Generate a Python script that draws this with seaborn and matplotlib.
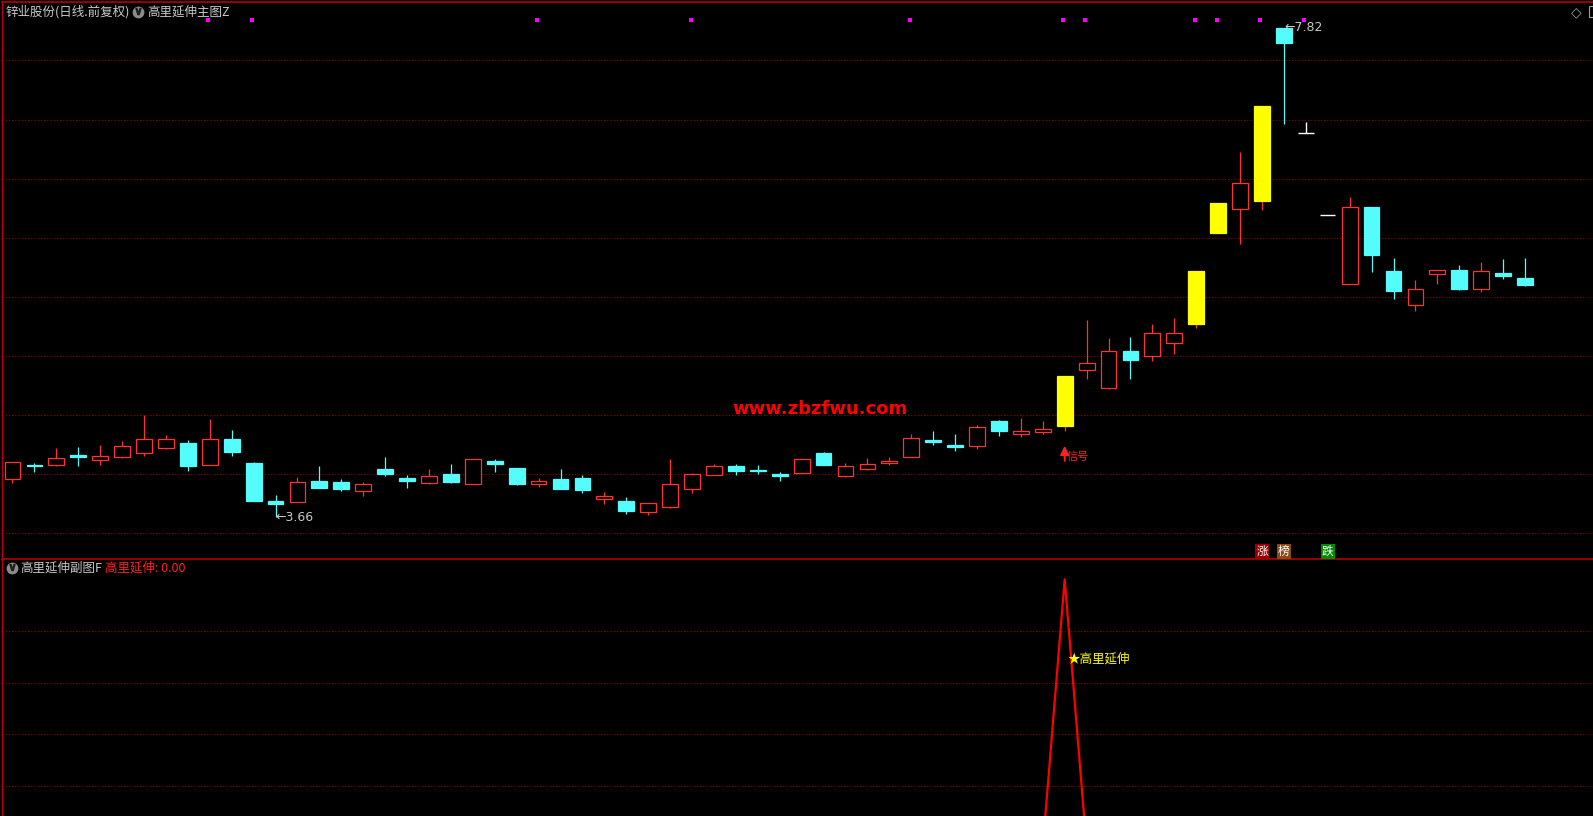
import numpy as np
import pandas as pd
import matplotlib
matplotlib.use("Agg")
import matplotlib.pyplot as plt
from matplotlib.patches import Rectangle
import seaborn as sns

# daily bars (oldest first)
opens = [3.984, 4.100, 4.103, 4.185, 4.145, 4.171, 4.205, 4.247, 4.287, 4.103,
         4.322, 4.117, 3.796, 3.788, 3.964, 3.956, 3.881, 4.066, 3.990, 3.950,
         4.024, 3.941, 4.134, 4.075, 3.941, 3.981, 3.990, 3.813, 3.794, 3.703,
         3.745, 3.899, 4.018, 4.092, 4.058, 4.024, 4.035, 4.202, 4.009, 4.069,
         4.120, 4.171, 4.313, 4.270, 4.264, 4.475, 4.367, 4.384, 4.435, 4.906,
         4.758, 5.071, 5.025, 5.136, 5.303, 6.078, 6.277, 6.350, 7.820, 6.926,
         6.228, 5.638, 6.296, 5.752, 5.460, 5.723, 5.760, 5.596, 5.735, 5.692]
highs = [4.123, 4.120, 4.245, 4.253, 4.270, 4.304, 4.526, 4.356, 4.313, 4.492,
         4.398, 4.126, 3.845, 3.998, 4.092, 3.981, 3.956, 4.168, 4.015, 4.066,
         4.109, 4.151, 4.151, 4.075, 3.990, 4.066, 4.015, 3.870, 3.828, 3.774,
         4.151, 4.032, 4.109, 4.109, 4.100, 4.041, 4.151, 4.211, 4.117, 4.160,
         4.168, 4.364, 4.390, 4.364, 4.441, 4.483, 4.500, 4.475, 4.858, 5.334,
         5.181, 5.190, 5.301, 5.352, 5.752, 6.330, 6.764, 7.156, 7.820, 7.017,
         6.228, 6.381, 6.296, 5.862, 5.675, 5.760, 5.803, 5.828, 5.854, 5.862]
lows = [3.950, 4.043, 4.094, 4.094, 4.103, 4.162, 4.179, 4.239, 4.052, 4.103,
        4.179, 3.796, 3.660, 3.788, 3.907, 3.881, 3.839, 4.009, 3.904, 3.941,
        3.947, 3.941, 4.041, 3.930, 3.913, 3.896, 3.862, 3.771, 3.683, 3.675,
        3.737, 3.862, 4.018, 4.015, 4.024, 3.964, 4.035, 4.103, 4.001, 4.060,
        4.103, 4.171, 4.270, 4.219, 4.236, 4.347, 4.339, 4.367, 4.392, 4.835,
        4.750, 4.835, 4.983, 5.046, 5.269, 6.078, 5.984, 6.273, 7.005, 6.926,
        6.228, 5.638, 5.746, 5.516, 5.414, 5.643, 5.592, 5.575, 5.686, 5.626]
closes = [4.123, 4.095, 4.157, 4.171, 4.177, 4.262, 4.322, 4.322, 4.094, 4.322,
          4.213, 3.796, 3.771, 3.956, 3.907, 3.899, 3.938, 4.026, 3.964, 4.007,
          3.956, 4.151, 4.109, 3.941, 3.964, 3.896, 3.887, 3.834, 3.709, 3.774,
          3.938, 4.024, 4.092, 4.049, 4.049, 4.007, 4.151, 4.103, 4.092, 4.109,
          4.134, 4.330, 4.299, 4.256, 4.424, 4.390, 4.390, 4.404, 4.858, 4.966,
          5.068, 4.997, 5.224, 5.224, 5.752, 6.330, 6.498, 7.156, 7.695, 6.926,
          6.228, 6.294, 5.890, 5.584, 5.596, 5.760, 5.601, 5.752, 5.712, 5.635]

yellow_idx = [48, 54, 55, 57]
white_idx = [59, 60]
mark_idx = [9, 11, 24, 31, 41, 48, 49, 54, 55, 57, 59]
signal_idx = 48
badges = [(57, "涨", "#9a0000"), (58, "榜", "#8b4a10"), (60, "跌", "#008a00")]

# sub-chart indicator
sub_vals = [0, 0, 0, 0, 0, 0, 0, 0, 0, 0,
            0, 0, 0, 0, 0, 0, 0, 0, 0, 0,
            0, 0, 0, 0, 0, 0, 0, 0, 0, 0,
            0, 0, 0, 0, 0, 0, 0, 0, 0, 0,
            0, 0, 0, 0, 0, 0, 0, 0, 1, 0,
            0, 0, 0, 0, 0, 0, 0, 0, 0, 0,
            0, 0, 0, 0, 0, 0, 0, 0, 0, 0]

main_grid = np.linspace(7.545, 3.521, 9)
sub_grid = [0.807, 0.6115, 0.421, 0.2267]

RED = "#ff3232"
CYAN = "#54fcfc"
GRID = "#a00000"
BORDER = "#c00000"
GRAY = "#c8c8c8"

sns.set_style("dark", {"axes.facecolor": "black", "figure.facecolor": "black"})
plt.rcParams["font.family"] = ["Noto Sans CJK SC", "DejaVu Sans"]

W, H = 1593, 816
fig = plt.figure(figsize=(W / 100, H / 100), dpi=100, facecolor="black")
left = 2.3 / W
sep = 1 - 559 / H
ax2 = fig.add_axes([left, 0, 1 - left, sep])
ax = fig.add_axes([left, sep, 1 - left, (559 - 1.7) / H])
ax.set_zorder(3)
ax.patch.set_alpha(0)

for a in (ax, ax2):
    a.set_facecolor("black")
    a.set_xticks([])
    a.set_yticks([])
    a.grid(False)
    a.set_xlim(-0.465, 72.1)
    for s in a.spines.values():
        s.set_visible(False)
    a.spines["left"].set_visible(True)
    a.spines["left"].set_color(BORDER)
    a.spines["left"].set_linewidth(1.0)
ax.patch.set_alpha(0)
for s in ("top", "bottom"):
    ax.spines[s].set_visible(True)
    ax.spines[s].set_color(BORDER)
    ax.spines[s].set_linewidth(1.1)

ax.set_ylim(3.300, 8.0455)
ax2.set_ylim(0.1158, 1.0758)

for g in main_grid:
    ax.axhline(g, color=GRID, lw=0.72, ls=(0, (1, 2.2)), zorder=1)
for g in sub_grid:
    ax2.axhline(g, color=GRID, lw=0.72, ls=(0, (1, 2.2)), zorder=1)

# candles
df = pd.DataFrame({"o": opens, "h": highs, "l": lows, "c": closes})
for i, r in df.iterrows():
    top, bot = max(r.o, r.c), min(r.o, r.c)
    if i in white_idx:
        ax.hlines(r.c, i - 0.35, i + 0.35, color="white", lw=1.0, zorder=3)
        if r.h > top:
            ax.vlines(i, top, r.h, color="white", lw=1.0, zorder=3)
        continue
    up = r.c >= r.o
    wc = RED if up else CYAN
    ax.vlines(i, top, r.h, color=wc, lw=0.9, zorder=2)
    ax.vlines(i, r.l, bot, color=wc, lw=0.9, zorder=2)
    if i in yellow_idx:
        fc, ec = "#ffff00", "#ffff00"
    elif up:
        fc, ec = "black", RED
    else:
        fc, ec = CYAN, CYAN
    ax.bar(i, max(top - bot, 1e-4), bottom=bot, width=0.72,
           facecolor=fc, edgecolor=ec, linewidth=0.9, zorder=3)

# high / low labels
ax.text(58, 7.824, "←7.82", color=GRAY, fontsize=9, ha="left", va="center",
        family="DejaVu Sans")
ax.text(12, 3.657, "←3.66", color=GRAY, fontsize=9, ha="left", va="center",
        family="DejaVu Sans")

# magenta dots across the top
xt = ax.get_xaxis_transform()
ax.scatter(np.array(mark_idx) - 0.07, [0.9666] * len(mark_idx), transform=xt,
           marker="s", s=6, color="#ff00ff", linewidths=0, zorder=4)

# signal arrow
ax.annotate("", xy=(signal_idx, 4.2875), xytext=(signal_idx, 4.112),
            arrowprops=dict(arrowstyle="-|>", color="#ff2020", lw=1.4,
                            mutation_scale=13), zorder=4)
ax.text(signal_idx + 0.08, 4.168, "信号", color="#ff2020", fontsize=8,
        ha="left", va="center")

for i, t, bg in badges:
    ax.text(i, 0.0135, t, transform=xt, color="white", fontsize=8.5,
            ha="center", va="center",
            bbox=dict(boxstyle="square,pad=0.08", fc=bg, ec="none"))

# sub-chart line
sub = pd.DataFrame({"idx": range(len(sub_vals)), "val": sub_vals})
sns.lineplot(data=sub, x="idx", y="val", ax=ax2, color="#ff0000",
             linewidth=1.6, legend=False)
ax2.set_xlabel("")
ax2.set_ylabel("")
ax2.text(48.15, 0.702, "★高里延伸", color="#ffff00", fontsize=9,
         ha="left", va="center")

# headers
def fx(px):
    return px / W

def fy(py):
    return 1 - py / H

def icon(px, py):
    fig.lines.append(plt.Line2D([fx(px)], [fy(py)], transform=fig.transFigure,
                                marker="o", ms=8.5, color="#8c8c8c", mec="none"))
    fig.lines.append(plt.Line2D([fx(px)], [fy(py) + 0.001], transform=fig.transFigure,
                                marker=r"$\vee$", ms=4.5, color="#202020", mec="#202020"))

fig.text(fx(6), fy(12), "锌业股份(日线.前复权)", color=GRAY, fontsize=9,
         ha="left", va="center")
icon(137.5, 12)
fig.text(fx(147), fy(12), "高里延伸主图Z", color=GRAY, fontsize=9,
         ha="left", va="center")
icon(11.5, 568)
fig.text(fx(20.7), fy(568), "高里延伸副图F", color=GRAY, fontsize=9,
         ha="left", va="center")
fig.text(fx(105), fy(568), "高里延伸: 0.00", color="#ff2020", fontsize=9,
         ha="left", va="center")

fig.text(fx(1576), fy(12), "◇", color="#a0a0a0", fontsize=10,
         ha="center", va="center", family="DejaVu Sans")
fig.patches.append(Rectangle((fx(1589), fy(17)), 8 / W, 11 / H, fill=False,
                             edgecolor="#a0a0a0", lw=0.8,
                             transform=fig.transFigure))

fig.text(fx(820), fy(408.5), "www.zbzfwu.com", color="#ff0000", fontsize=13,
         fontweight="heavy", family="DejaVu Sans", ha="center", va="center")

fig.savefig("out.png", dpi=100, facecolor="black")
